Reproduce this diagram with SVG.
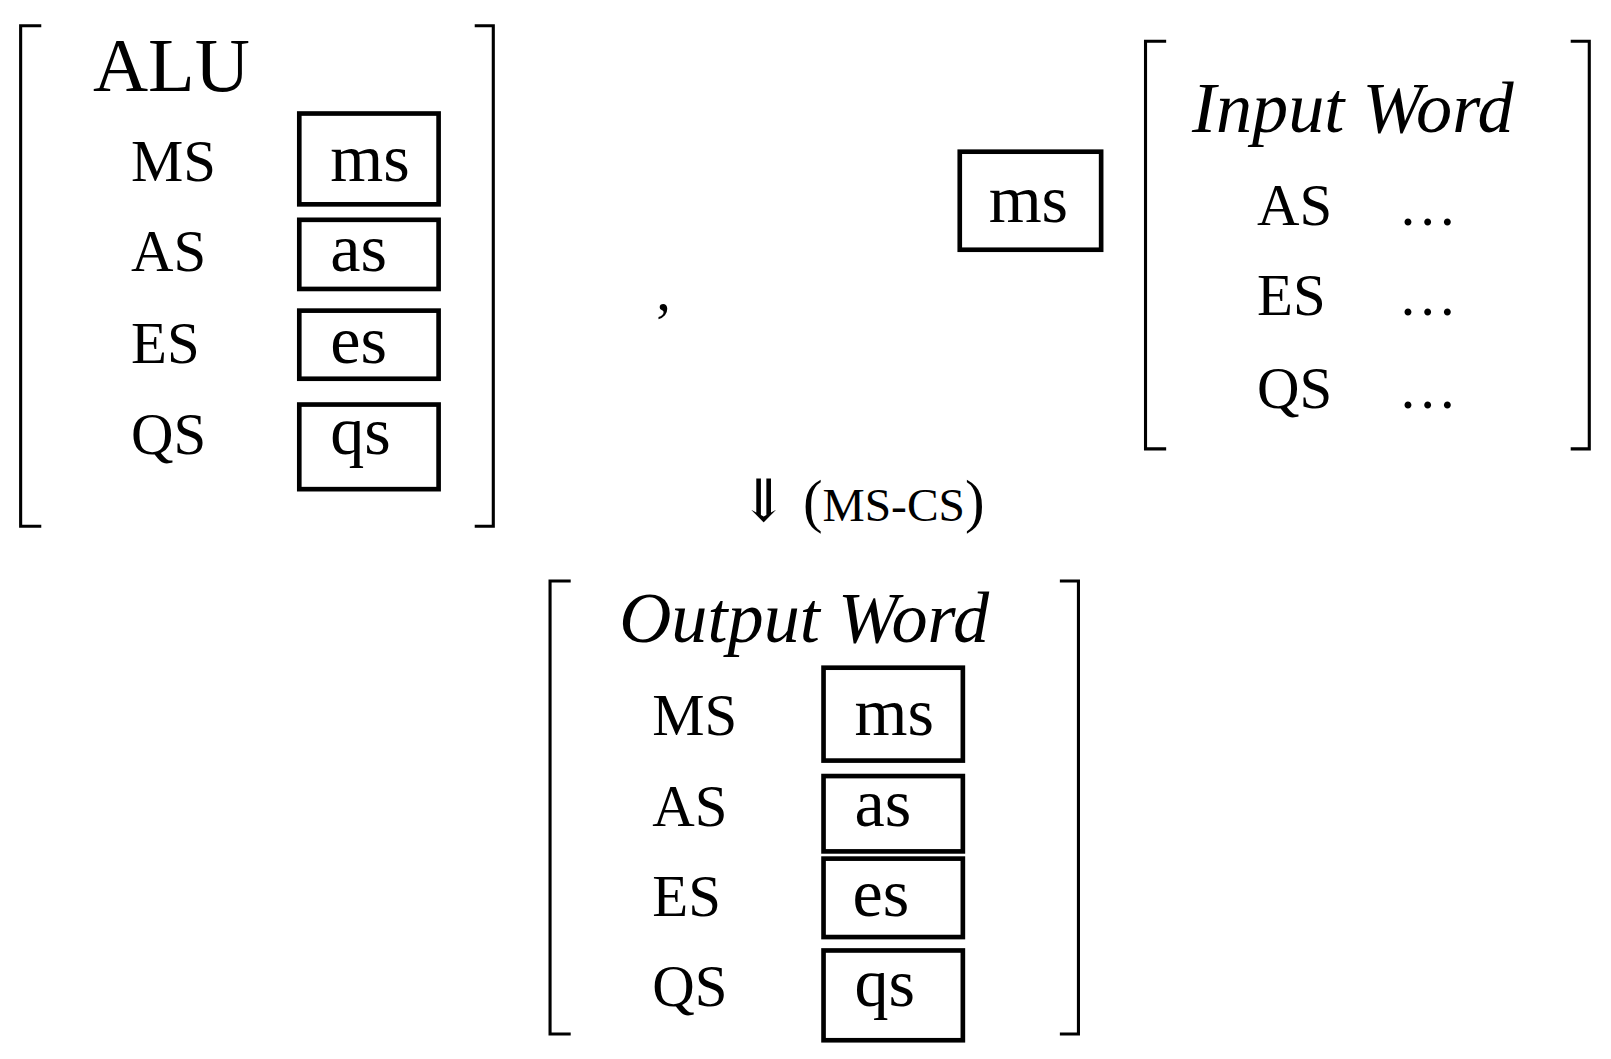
<svg xmlns="http://www.w3.org/2000/svg" width="1611" height="1059" viewBox="0 0 1611 1059">
<style>
text{font-family:"Liberation Serif","DejaVu Serif",serif;fill:#000}
.lab{font-size:57px}
.val{font-size:66px}
.big{font-size:74px}
.it{font-size:70px;font-style:italic}
.br{fill:none;stroke:#000;stroke-width:3}
.bx{fill:none;stroke:#000;stroke-width:4.5}
</style>
<rect width="1611" height="1059" fill="#fff"/>
<g transform="scale(1.032)">
<g id="alu">
<path class="br" d="M40 25H20V510H40M460 25H478V510H460"/>
<text class="big" x="90" y="88">ALU</text>
<text class="lab" x="127" y="175">MS</text>
<text class="lab" x="127" y="263">AS</text>
<text class="lab" x="127" y="352">ES</text>
<text class="lab" x="127" y="440">QS</text>
<rect class="bx" x="290" y="110" width="135" height="88"/>
<rect class="bx" x="290" y="213" width="135" height="67"/>
<rect class="bx" x="290" y="301" width="135" height="66"/>
<rect class="bx" x="290" y="392" width="135" height="82"/>
<text class="val" x="320" y="175">ms</text>
<text class="val" x="320" y="263">as</text>
<text class="val" x="320" y="352">es</text>
<text class="val" x="320" y="440">qs</text>
</g>
<g id="comma"><text class="lab" x="636" y="300">,</text></g>
<g id="input">
<rect class="bx" x="930" y="147" width="137" height="95"/>
<text class="val" x="958" y="215">ms</text>
<path class="br" d="M1130 40H1110V435H1130M1522 40H1540V435H1522"/>
<text class="it" x="1155" y="128">Input Word</text>
<text class="lab" x="1218" y="218">AS</text>
<text class="lab" x="1218" y="305">ES</text>
<text class="lab" x="1218" y="395">QS</text>
<text class="lab" x="1355" y="218">…</text>
<text class="lab" x="1355" y="305">…</text>
<text class="lab" x="1355" y="395">…</text>
</g>
<g id="arrow"><text class="lab" x="716" y="505">⇓ (<tspan font-size="46">MS-CS</tspan>)</text></g>
<g id="output">
<path class="br" d="M553 563H533V1002H553M1027 563H1045V1002H1027"/>
<text class="it" x="600" y="622">Output Word</text>
<text class="lab" x="632" y="712">MS</text>
<text class="lab" x="632" y="800">AS</text>
<text class="lab" x="632" y="888">ES</text>
<text class="lab" x="632" y="975">QS</text>
<rect class="bx" x="798" y="647" width="135" height="90"/>
<rect class="bx" x="798" y="752" width="135" height="73"/>
<rect class="bx" x="798" y="832" width="135" height="76"/>
<rect class="bx" x="798" y="921" width="135" height="87"/>
<text class="val" x="828" y="712">ms</text>
<text class="val" x="828" y="800">as</text>
<text class="val" x="826" y="888">es</text>
<text class="val" x="828" y="975">qs</text>
</g>
<g id="connectors"/>
</g>
</svg>
